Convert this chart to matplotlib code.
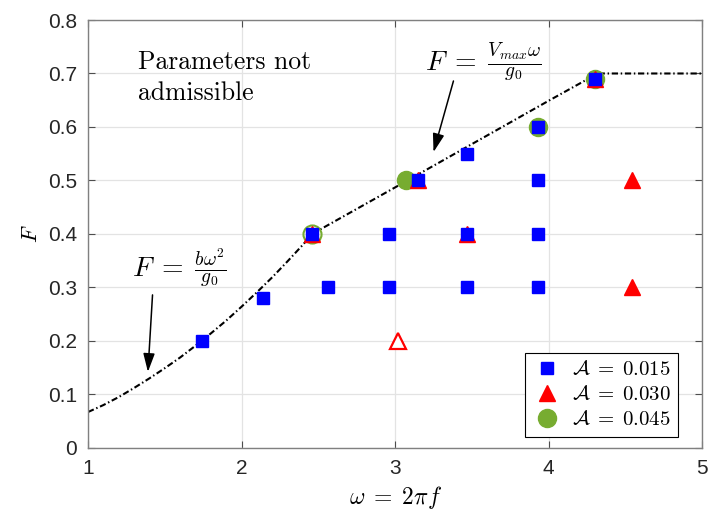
import matplotlib
matplotlib.use('Agg')
import matplotlib.pyplot as plt

plt.rcParams['mathtext.fontset'] = 'cm'
plt.rcParams['font.family'] = ['Liberation Sans', 'DejaVu Sans']

# boundary curve F(omega): quadratic branch, linear branch, saturation
bound_w = [1.0, 1.1, 1.2, 1.3, 1.4, 1.5, 1.6, 1.7, 1.8, 1.9, 2.0, 2.1,
           2.2, 2.3, 2.4, 2.46, 3.0, 3.5, 4.0, 4.32, 5.0]
bound_F = [0.067, 0.080, 0.095, 0.112, 0.130, 0.149, 0.169, 0.191,
           0.214, 0.238, 0.264, 0.291, 0.319, 0.349, 0.380, 0.400,
           0.487, 0.568, 0.649, 0.700, 0.700]

# A = 0.015
sq_w = [1.74, 2.14, 2.46, 2.56, 2.96, 2.96, 3.15, 3.47, 3.47, 3.47,
        3.93, 3.93, 3.93, 3.93, 4.30]
sq_F = [0.20, 0.28, 0.40, 0.30, 0.30, 0.40, 0.50, 0.55, 0.40, 0.30,
        0.60, 0.50, 0.40, 0.30, 0.69]

# A = 0.030 (filled), plus one open marker
tri_w = [2.46, 3.15, 3.47, 4.30, 4.54, 4.54]
tri_F = [0.40, 0.50, 0.40, 0.69, 0.50, 0.30]
tri_open_w = [3.02]
tri_open_F = [0.20]

# A = 0.045 (filled), plus one open marker
circ_w = [3.07, 3.93, 4.30]
circ_F = [0.50, 0.60, 0.69]
circ_open_w = [2.46]
circ_open_F = [0.40]

blue = '#0000ff'
red = '#ff0000'
green = '#77ac30'

fig = plt.figure(figsize=(7.1, 5.13), dpi=100)
ax = fig.add_axes([0.124, 0.127, 0.865, 0.834])

ax.plot(bound_w, bound_F, color='k', ls=(0, (3, 1.3, 0.7, 1.3)), lw=1.5,
        zorder=2)

ax.plot(circ_w, circ_F, 'o', color=green, ms=13, mec=green, zorder=3,
        label=r'$\mathcal{A}\;=\;0.045$')
ax.plot(circ_open_w, circ_open_F, 'o', ms=13, mfc='none', mec=green,
        mew=1.5, zorder=3)
ax.plot(tri_w, tri_F, '^', color=red, ms=12, mec=red, zorder=4,
        label=r'$\mathcal{A}\;=\;0.030$')
ax.plot(tri_open_w, tri_open_F, '^', ms=11, mfc='white', mec=red,
        mew=1.6, zorder=4)
ax.plot(sq_w, sq_F, 's', color=blue, ms=8, mec=blue, zorder=5,
        label=r'$\mathcal{A}\;=\;0.015$')

ax.set_xlim(1, 5)
ax.set_ylim(0, 0.8)
ax.set_xticks([1, 2, 3, 4, 5])
ax.set_yticks([0, 0.1, 0.2, 0.3, 0.4, 0.5, 0.6, 0.7, 0.8])
ax.set_yticklabels(['0', '0.1', '0.2', '0.3', '0.4', '0.5', '0.6', '0.7', '0.8'])
ax.grid(True, color='#e3e3e3', lw=0.9)
ax.set_axisbelow(True)
ax.tick_params(direction='in', top=True, right=True, length=5,
               labelsize=15, colors='#4d4d4d', labelcolor='#262626', pad=8)
for sp in ax.spines.values():
    sp.set_color('#808080')
    sp.set_linewidth(1.0)

ax.set_xlabel(r'$\omega\;=\;2\pi f$', fontsize=17, labelpad=4)
ax.set_ylabel(r'$F$', fontsize=16, labelpad=4)

ax.text(1.326, 0.708, 'Parameters not', family='cmr10', fontsize=18.5,
        va='baseline', ha='left')
ax.text(1.326, 0.650, 'admissible', family='cmr10', fontsize=18.5,
        va='baseline', ha='left')

ax.text(1.285, 0.336, r'$F\;=\;\frac{b\omega^2}{g_0}$', fontsize=20,
        va='center', ha='left')
ax.text(3.195, 0.72, r'$F\;=\;\frac{V_{max}\omega}{g_0}$', fontsize=20,
        va='center', ha='left')

arrow = dict(arrowstyle='-|>,head_length=0.8,head_width=0.25', color='k',
             lw=1.1, mutation_scale=14, shrinkA=0, shrinkB=0)
ax.annotate('', xy=(1.39, 0.142), xytext=(1.42, 0.286), arrowprops=arrow)
ax.annotate('', xy=(3.25, 0.553), xytext=(3.38, 0.686), arrowprops=arrow)

h, l = ax.get_legend_handles_labels()
leg = ax.legend(h[::-1], l[::-1], loc='lower right',
                bbox_to_anchor=(0.961, 0.026), borderaxespad=0,
                fontsize=15, fancybox=False, framealpha=1, edgecolor='k',
                handletextpad=0.5, labelspacing=0.3, borderpad=0.35,
                handlelength=1.4)
leg.get_frame().set_linewidth(0.8)
leg.set_zorder(10)

fig.savefig('out.png', dpi=100)
